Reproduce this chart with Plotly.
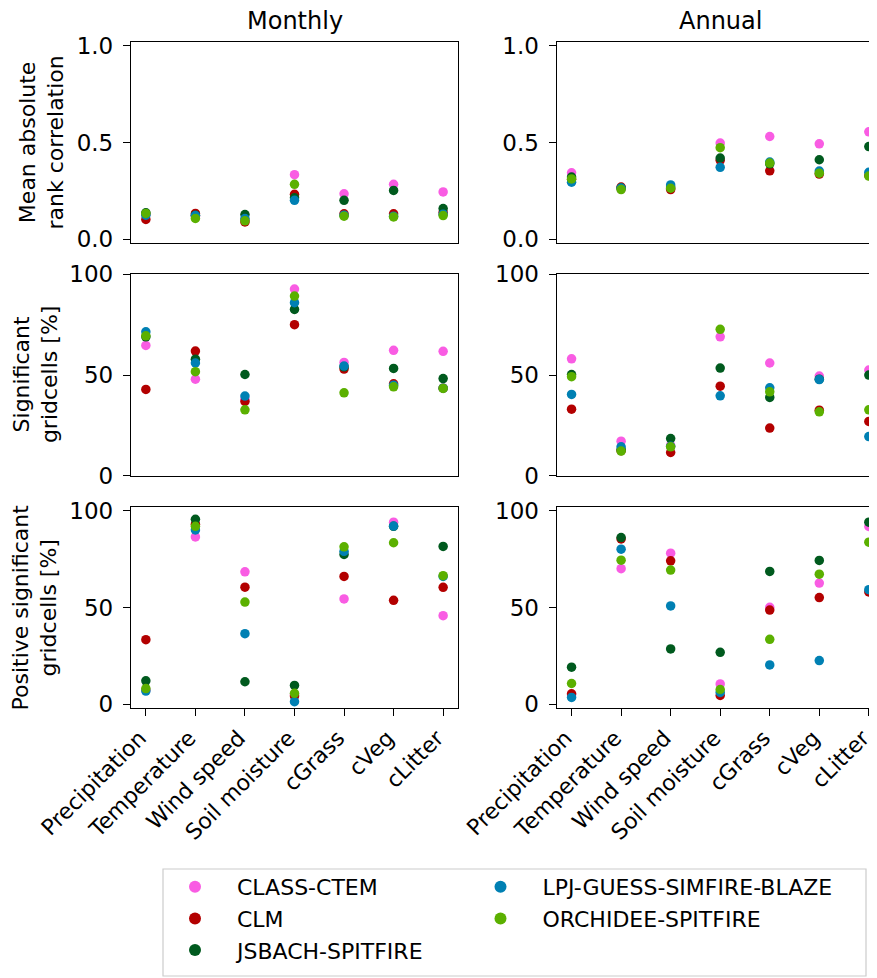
import plotly.graph_objects as go

# The page body adds an 8px margin, so the figure is sized to fill the rest of the window
OFF = 8
W, H = 877 - OFF, 978 - OFF


def px(vx):
    return (vx - OFF) / W


def py(vy):
    return 1 - (vy - OFF) / H


categories = ["Precipitation", "Temperature", "Wind speed", "Soil moisture", "cGrass", "cVeg", "cLitter"]
models = ["CLASS-CTEM", "CLM", "JSBACH-SPITFIRE", "LPJ-GUESS-SIMFIRE-BLAZE", "ORCHIDEE-SPITFIRE"]
colors = ["#f95ce3", "#b30000", "#005a1e", "#0080b3", "#5bb000"]
legend_ids = ["legend", "legend", "legend", "legend2", "legend2"]

# Mean absolute rank correlation - Monthly
mon_corr_class = [0.13, 0.12, 0.10, 0.334, 0.235, 0.284, 0.245]
mon_corr_clm = [0.103, 0.134, 0.09, 0.233, 0.132, 0.132, 0.139]
mon_corr_jsbach = [0.137, 0.125, 0.128, 0.215, 0.202, 0.253, 0.159]
mon_corr_lpj = [0.125, 0.123, 0.108, 0.202, 0.125, 0.12, 0.13]
mon_corr_orch = [0.134, 0.108, 0.096, 0.284, 0.12, 0.116, 0.123]
# Annual
ann_corr_class = [0.344, 0.26, 0.265, 0.497, 0.531, 0.493, 0.555]
ann_corr_clm = [0.31, 0.27, 0.257, 0.408, 0.354, 0.337, 0.33]
ann_corr_jsbach = [0.322, 0.265, 0.27, 0.42, 0.39, 0.411, 0.479]
ann_corr_lpj = [0.295, 0.265, 0.281, 0.372, 0.399, 0.353, 0.346]
ann_corr_orch = [0.312, 0.257, 0.264, 0.473, 0.394, 0.342, 0.327]

# Significant gridcells [%] - Monthly
mon_sig_class = [64.7, 48.0, 38.0, 92.7, 56.3, 62.3, 61.8]
mon_sig_clm = [42.9, 61.9, 36.9, 75.0, 53.0, 45.7, 43.5]
mon_sig_jsbach = [69.0, 57.9, 50.3, 82.6, 54.1, 53.3, 48.3]
mon_sig_lpj = [71.5, 56.0, 39.6, 85.9, 54.5, 45.0, 43.5]
mon_sig_orch = [69.5, 51.7, 32.8, 89.2, 41.2, 44.2, 43.4]
# Annual
ann_sig_class = [58.1, 17.2, 15.0, 69.0, 56.0, 49.5, 52.5]
ann_sig_clm = [33.1, 12.5, 11.6, 44.5, 23.7, 32.6, 27.0]
ann_sig_jsbach = [50.3, 13.0, 18.5, 53.5, 38.9, 48.0, 50.0]
ann_sig_lpj = [40.4, 14.4, 14.7, 39.7, 43.7, 47.8, 19.5]
ann_sig_orch = [49.2, 12.3, 14.4, 72.7, 41.7, 31.8, 32.8]

# Positive significant gridcells [%] - Monthly
mon_pos_class = [7.5, 86.4, 68.4, 5.0, 54.4, 94.0, 45.8]
mon_pos_clm = [33.4, 93.0, 60.5, 4.3, 66.0, 53.7, 60.4]
mon_pos_jsbach = [12.2, 95.5, 11.7, 9.8, 77.4, 91.9, 81.5]
mon_pos_lpj = [6.9, 90.0, 36.5, 1.4, 79.0, 92.0, 66.0]
mon_pos_orch = [8.2, 91.9, 52.8, 5.7, 81.3, 83.4, 66.4]
# Annual
ann_pos_class = [5.0, 70.0, 78.0, 10.6, 50.1, 62.6, 91.8]
ann_pos_clm = [5.5, 85.4, 74.1, 4.6, 48.7, 55.1, 58.0]
ann_pos_jsbach = [19.2, 86.1, 28.6, 26.9, 68.6, 74.3, 94.0]
ann_pos_lpj = [3.6, 80.1, 50.8, 6.2, 20.4, 22.6, 59.2]
ann_pos_orch = [10.8, 74.4, 69.3, 7.7, 33.6, 67.2, 83.7]

col_titles = ["Monthly", "Annual"]
row_labels = ["Mean absolute<br>rank correlation", "Significant<br>gridcells [%]",
              "Positive significant<br>gridcells [%]"]
row_tickvals = [[0.0, 0.5, 1.0], [0, 50, 100], [0, 50, 100]]
row_ticktext = [["0.0", "0.5", "1.0"], ["0", "50", "100"], ["0", "50", "100"]]
row_ranges = [[-0.02, 1.02], [0, 100], [-2, 102]]

panels = [
    [[mon_corr_class, mon_corr_clm, mon_corr_jsbach, mon_corr_lpj, mon_corr_orch],
     [ann_corr_class, ann_corr_clm, ann_corr_jsbach, ann_corr_lpj, ann_corr_orch]],
    [[mon_sig_class, mon_sig_clm, mon_sig_jsbach, mon_sig_lpj, mon_sig_orch],
     [ann_sig_class, ann_sig_clm, ann_sig_jsbach, ann_sig_lpj, ann_sig_orch]],
    [[mon_pos_class, mon_pos_clm, mon_pos_jsbach, mon_pos_lpj, mon_pos_orch],
     [ann_pos_class, ann_pos_clm, ann_pos_jsbach, ann_pos_lpj, ann_pos_orch]],
]

FONT = "DejaVu Sans"

# layout geometry in window pixels
col_px = [(131, 458), (556.7, 877)]
row_px = [(41.7, 243.3), (274.3, 475.9), (506.7, 708.3)]
unit_px = (458 - 131) / 6.6
x_ranges = [[-0.3, 6.3], [-0.3, -0.3 + (877 - 556.7) / unit_px]]

fig = go.Figure()
layout = dict(
    width=W, height=H, margin=dict(l=0, r=0, t=0, b=0, pad=0, autoexpand=False),
    paper_bgcolor="white", plot_bgcolor="white",
    font=dict(family=FONT, size=22, color="black"),
    showlegend=True,
)

for r in range(3):
    for c in range(2):
        idx = r * 2 + c + 1
        xa = "x" if idx == 1 else f"x{idx}"
        ya = "y" if idx == 1 else f"y{idx}"
        xkey = "xaxis" if idx == 1 else f"xaxis{idx}"
        ykey = "yaxis" if idx == 1 else f"yaxis{idx}"
        for m in range(5):
            fig.add_trace(go.Scatter(
                x=categories, y=panels[r][c][m], mode="markers",
                marker=dict(color=colors[m], size=9.5, line=dict(width=0)),
                name=models[m], legend=legend_ids[m], legendgroup=models[m],
                showlegend=(idx == 1), xaxis=xa, yaxis=ya,
                hoverinfo="skip", cliponaxis=False,
            ))
        x0, x1 = col_px[c]
        y0, y1 = row_px[r]
        bottom = r == 2
        layout[xkey] = dict(
            domain=[px(x0), min(1.0, px(x1))], anchor=ya, type="category",
            categoryorder="array", categoryarray=categories,
            range=x_ranges[c], showgrid=False, zeroline=False, automargin=False,
            showline=True, linecolor="black", linewidth=1.3, mirror=True,
            ticks="outside" if bottom else "", ticklen=7, tickwidth=1.3, tickcolor="black",
            showticklabels=bottom, tickangle=-45, ticklabelshift=-6,
            tickfont=dict(family=FONT, size=22, color="black"),
        )
        layout[ykey] = dict(
            domain=[py(y1), py(y0)], anchor=xa,
            range=row_ranges[r], tickvals=row_tickvals[r], ticktext=row_ticktext[r],
            showgrid=False, zeroline=False, automargin=False,
            showline=True, linecolor="black", linewidth=1.3, mirror=(c == 0),
            ticks="outside", ticklen=7, tickwidth=1.3, tickcolor="black",
            tickfont=dict(family=FONT, size=23, color="black"),
            ticklabelstandoff=5,
        )

annotations = []
for c in range(2):
    cx = (131 + 458) / 2 if c == 0 else 720
    annotations.append(dict(
        text=col_titles[c], x=px(cx), y=py(21), xref="paper", yref="paper",
        xanchor="center", yanchor="middle", showarrow=False,
        font=dict(family=FONT, size=24, color="black"),
    ))
label_x = [42, 36, 34]
for r in range(3):
    y0, y1 = row_px[r]
    annotations.append(dict(
        text=row_labels[r], x=px(label_x[r]), y=py((y0 + y1) / 2),
        xref="paper", yref="paper", xanchor="center", yanchor="middle",
        textangle=-90, showarrow=False,
        font=dict(family=FONT, size=22, color="black"),
    ))
layout["annotations"] = annotations

# legend frame
layout["shapes"] = [dict(
    type="rect", xref="paper", yref="paper",
    x0=px(163), x1=px(866), y0=py(976), y1=py(869),
    line=dict(color="#cccccc", width=1.2), fillcolor="white", layer="below",
)]

legend_common = dict(
    orientation="v", xanchor="left", yanchor="top",
    bgcolor="rgba(0,0,0,0)", borderwidth=0, itemwidth=74,
    font=dict(family=FONT, size=22, color="black"),
    traceorder="normal", itemsizing="constant", tracegroupgap=3,
)
layout["legend"] = dict(x=px(153), y=py(866), **legend_common)
layout["legend2"] = dict(x=px(458.5), y=py(866), **legend_common)

fig.update_layout(**layout)
fig.write_html("out.html")
